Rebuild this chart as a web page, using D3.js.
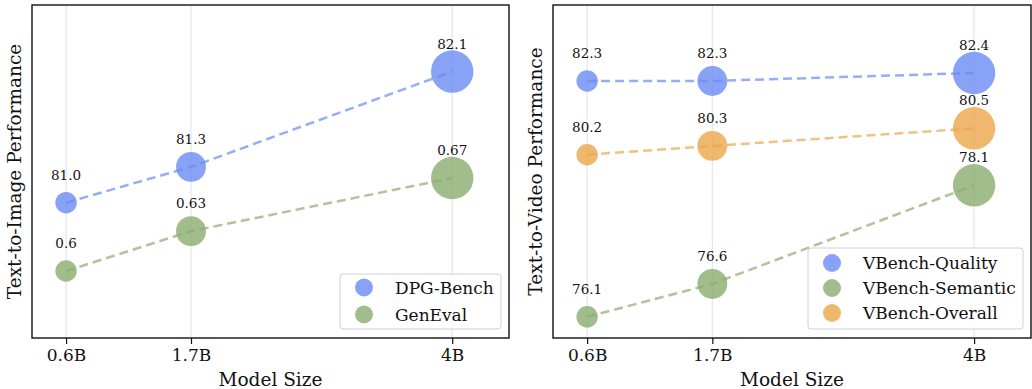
<!DOCTYPE html>
<html>
<head>
<meta charset="utf-8">
<script src="https://cdn.jsdelivr.net/npm/d3@7"></script>
<style>
  html, body { margin: 0; padding: 0; background: #fff; }
  svg text { font-family: "DejaVu Serif", serif; fill: #111; }
</style>
</head>
<body>
<svg id="sketchbook" width="1032" height="389"></svg>
<script>
// ---- data ----
const modelSizes = [0.6, 1.7, 4];
const tickLabels = ['0.6B', '1.7B', '4B'];

const dpgBench = [81.0, 81.3, 82.1];
const genEval = [0.6, 0.63, 0.67];

const vbQuality = [82.3, 82.3, 82.4];
const vbSemantic = [76.1, 76.6, 78.1];
const vbOverall = [80.2, 80.3, 80.5];

const labelsT2I = ['DPG-Bench', 'GenEval'];
const labelsT2V = ['VBench-Quality', 'VBench-Semantic', 'VBench-Overall'];

// ---- styles ----
const COLORS = { blue: '#6a8bf3', green: '#8bac6f', orange: '#eba64a' };

const svg = d3.select('#sketchbook');

/**
 * パネル一枚を描く
 */
function drawPanel(opt) {
    const { x0, x1, y0, y1 } = opt;
    const g = svg.append('g');

    const x = d3.scaleLinear().domain([0.3, 4.5]).range([x0, x1]);
    // marker area grows with model size
    const area = d3.scaleLinear().domain([0.6, 4]).range([115, 450]);
    const r = (d) => Math.sqrt(area(d));

    // grid
    g.selectAll('line.grid')
        .data(modelSizes)
        .enter()
        .append('line')
        .attr('class', 'grid')
        .attr('x1', (d) => x(d)).attr('x2', (d) => x(d))
        .attr('y1', y0).attr('y2', y1)
        .attr('stroke', '#e6e6e6')
        .attr('stroke-width', 1.2);

    opt.series.forEach((s) => {
        const y = d3.scaleLinear().domain(s.domain).range([y1, y0]);
        const pts = s.values.map((v, i) => ({ m: modelSizes[i], v: v, label: s.fmt(v) }));

        const sg = g.append('g');

        sg.selectAll('circle')
            .data(pts)
            .enter()
            .append('circle')
            .attr('cx', (d) => x(d.m))
            .attr('cy', (d) => y(d.v))
            .attr('r', (d) => r(d.m))
            .attr('fill', s.color)
            .attr('fill-opacity', 0.8);

        sg.append('path')
            .datum(pts)
            .attr('d', d3.line().x((d) => x(d.m)).y((d) => y(d.v)))
            .attr('fill', 'none')
            .attr('stroke', s.color)
            .attr('stroke-opacity', 0.7)
            .attr('stroke-width', 2.5)
            .attr('stroke-dasharray', '9,5');

        sg.selectAll('text.val')
            .data(pts)
            .enter()
            .append('text')
            .attr('class', 'val')
            .attr('x', (d) => x(d.m))
            .attr('y', (d) => y(d.v) - 23)
            .attr('text-anchor', 'middle')
            .attr('font-size', 13.5)
            .text((d) => d.label);
    });

    // frame
    g.append('rect')
        .attr('x', x0).attr('y', y0)
        .attr('width', x1 - x0).attr('height', y1 - y0)
        .attr('fill', 'none')
        .attr('stroke', '#111')
        .attr('stroke-width', 1.4);

    // x axis
    const axis = d3.axisBottom(x)
        .tickValues(modelSizes)
        .tickFormat((d, i) => tickLabels[i])
        .tickSize(6)
        .tickPadding(5);
    const ax = g.append('g')
        .attr('transform', 'translate(0,' + y1 + ')')
        .call(axis);
    ax.select('.domain').remove();
    ax.selectAll('.tick line').attr('stroke', '#111').attr('stroke-width', 1.2);
    ax.selectAll('.tick text')
        .attr('font-family', '"DejaVu Serif", serif')
        .attr('font-size', 17)
        .attr('fill', '#111');

    g.append('text')
        .attr('x', (x0 + x1) / 2)
        .attr('y', 386)
        .attr('text-anchor', 'middle')
        .attr('font-size', 18.5)
        .text('Model Size');

    g.append('text')
        .attr('transform', 'translate(' + opt.ylabelX + ',' + ((y0 + y1) / 2) + ') rotate(-90)')
        .attr('text-anchor', 'middle')
        .attr('font-size', 18.5)
        .text(opt.ylabel);

    // legend
    const L = opt.legend;
    const lg = g.append('g');
    lg.append('rect')
        .attr('x', L.x).attr('y', L.y)
        .attr('width', L.w).attr('height', L.h)
        .attr('rx', 3)
        .attr('fill', '#fff').attr('fill-opacity', 0.85)
        .attr('stroke', '#d0d0d0')
        .attr('stroke-width', 1);
    const rows = lg.selectAll('g.row')
        .data(opt.series)
        .enter()
        .append('g')
        .attr('class', 'row')
        .attr('transform', (d, i) => 'translate(0,' + (L.y + L.first + i * L.step) + ')');
    rows.append('circle')
        .attr('cx', L.x + 24).attr('cy', 0).attr('r', 9)
        .attr('fill', (d) => d.color).attr('fill-opacity', 0.8);
    rows.append('text')
        .attr('x', L.x + 55).attr('y', 6)
        .attr('font-size', 17)
        .text((d) => d.name);
}

drawPanel({
    x0: 32, x1: 509, y0: 5, y1: 338,
    ylabelX: 21,
    ylabel: 'Text-to-Image Performance',
    series: [
        { name: labelsT2I[0], values: dpgBench, color: COLORS.blue, domain: [79.865, 82.658], fmt: d3.format('.1f') },
        { name: labelsT2I[1], values: genEval, color: COLORS.green, domain: [0.5496, 0.8002], fmt: (v) => String(v) }
    ],
    legend: { x: 340, y: 274, w: 161, h: 55, first: 13.5, step: 27 }
});

drawPanel({
    x0: 553, x1: 1031, y0: 5, y1: 338,
    ylabelX: 542,
    ylabel: 'Text-to-Video Performance',
    series: [
        { name: labelsT2V[0], values: vbQuality, color: COLORS.blue, domain: [79.087, 83.25], fmt: d3.format('.1f') },
        { name: labelsT2V[1], values: vbSemantic, color: COLORS.green, domain: [75.778, 80.841], fmt: d3.format('.1f') },
        { name: labelsT2V[2], values: vbOverall, color: COLORS.orange, domain: [78.115, 81.903], fmt: d3.format('.1f') }
    ],
    legend: { x: 808, y: 248, w: 215, h: 81, first: 15, step: 25 }
});
</script>
</body>
</html>
